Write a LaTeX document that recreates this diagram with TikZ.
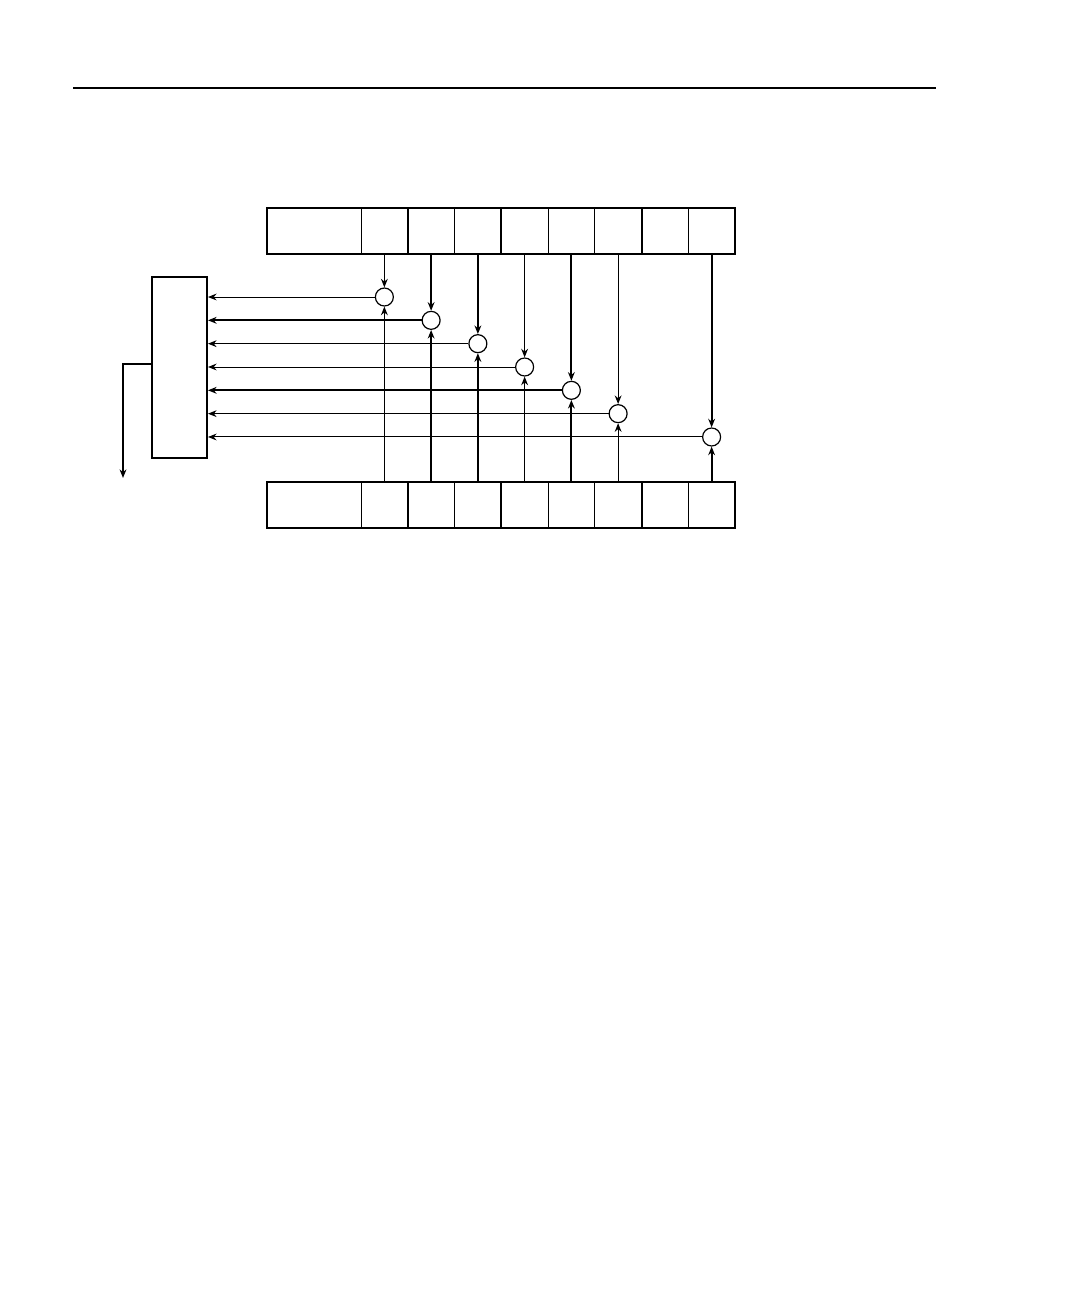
\documentclass[tikz,border=0pt]{standalone}
\usetikzlibrary{arrows.meta}
\begin{document}
\begin{tikzpicture}[x=0.5pt,y=-0.5pt,
    cell/.style={draw,line width=0.5pt,minimum height=23pt,inner sep=0pt,outer sep=0pt},
    sum/.style={draw,circle,line width=0.6pt,minimum size=9pt,inner sep=0pt},
    fine/.style={line width=0.5pt},
    heavy/.style={line width=1pt},
    >={Stealth[length=4.3pt,width=3.4pt]}]
    \useasboundingbox (0,0) rectangle (1080,1298);
    \draw [heavy] (73,88) -- (936,88);
    % registers, top and bottom
    \foreach \r/\y in {t/231,b/504.5} {
        \node [cell,minimum width=47pt] (\r0) at (314,\y) {};
        \foreach \i in {1,...,8}
            \node [cell,minimum width=23.375pt] (\r\i) at ({361+(\i-0.5)*46.75},\y) {};
        \draw [heavy] (\r0.north west) rectangle (\r1.south east);
        \draw [heavy] (\r2.north west) rectangle (\r3.south east);
        \draw [heavy] (\r4.north west) rectangle (\r6.south east);
        \draw [heavy] (\r7.north west) rectangle (\r8.south east);
    }
    \node [draw,heavy,minimum width=27.5pt,minimum height=90.5pt,inner sep=0pt] (acc) at (179.5,367.5) {};
    % comparators
    \foreach \i/\k in {1/0,2/1,3/2,4/3,5/4,6/5,8/6}
        \node [sum] (c\i) at ({361+(\i-0.5)*46.75},{297+23.33*\k}) {};
    \foreach \i/\w/\h in {1/fine/fine,2/heavy/heavy,3/heavy/fine,4/fine/fine,5/heavy/heavy,6/fine/fine,8/heavy/fine} {
        \draw [\w,->] (t\i.south) -- (c\i.north);
        \draw [\w,->] (b\i.north) -- (c\i.south);
        \draw [\h,->] (c\i.west) -- (acc.east |- c\i.west);
    }
    \coordinate (tap) at (152,364);
    \coordinate (out) at (123,478);
    \draw [heavy,->] (acc.west |- tap) -| (out);
\end{tikzpicture}
\end{document}
